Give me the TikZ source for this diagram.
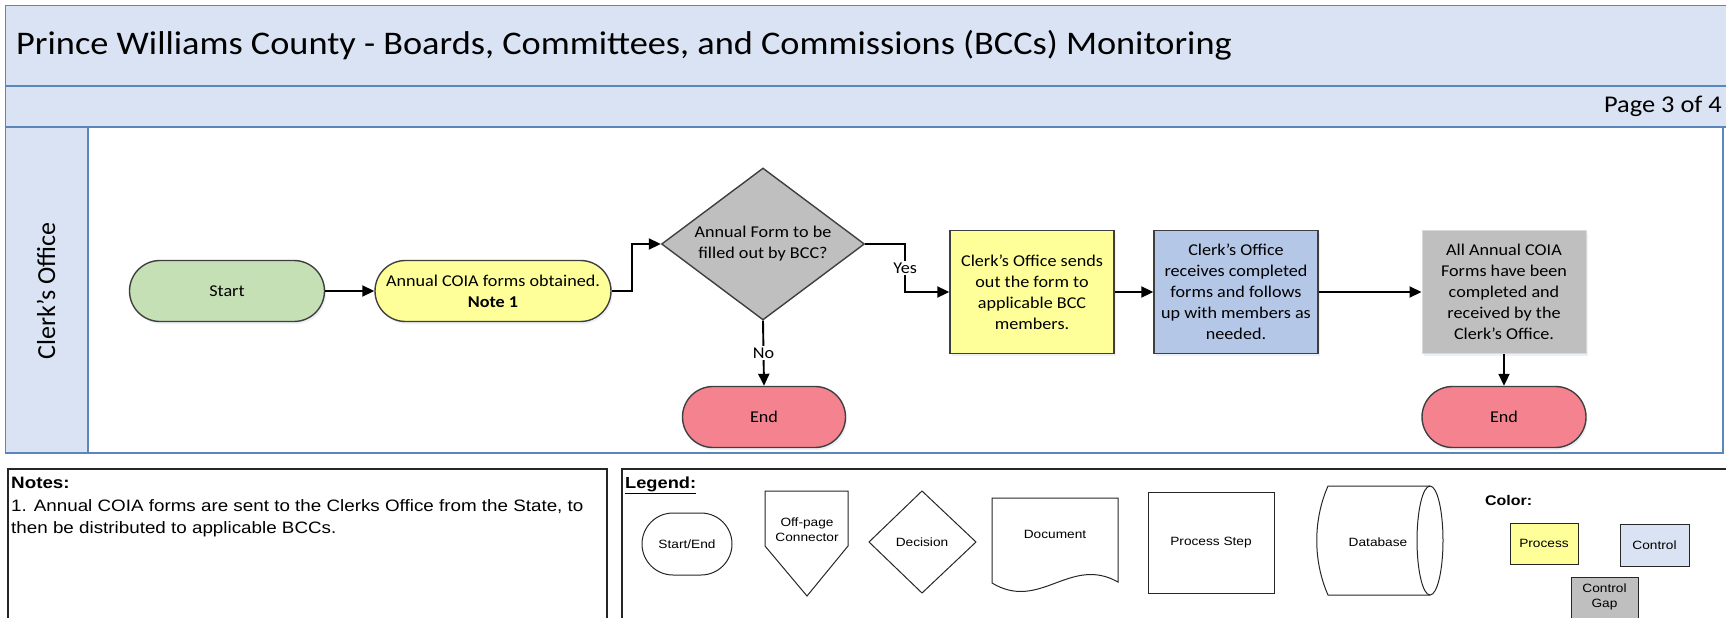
\documentclass[tikz,border=0pt]{standalone}
\usepackage{fontspec}
\setmainfont{Carlito}[FakeStretch=1.1]
\newfontfamily\lanefont{Carlito}
\newfontfamily\arialfont{Liberation Sans}[FakeStretch=1.14]
\usetikzlibrary{shapes.geometric,shapes.misc,arrows.meta,shadows}
\definecolor{hdr}{HTML}{DAE3F3}
\definecolor{hdrline}{HTML}{5A86BC}
\definecolor{startgreen}{HTML}{C5E0B4}
\definecolor{procyellow}{HTML}{FFFF99}
\definecolor{gapgray}{HTML}{BFBFBF}
\definecolor{endpink}{HTML}{F4838F}
\definecolor{ctrlblue}{HTML}{B4C7E7}
\definecolor{edge}{HTML}{3F3F3F}
\begin{document}
\begin{tikzpicture}[x=1pt,y=-1pt,
  flowtext/.style={font=\fontsize{16.5}{21}\selectfont},
  nshadow/.style={drop shadow={shadow xshift=1.5pt,shadow yshift=-2.5pt,opacity=0.3,fill=hdrline!40}},
  term/.style={rounded rectangle,draw=edge,line width=1.4pt,minimum height=61pt,inner sep=0pt,align=center,flowtext,nshadow},
  proc/.style={rectangle,draw=edge,line width=1.4pt,minimum width=164pt,minimum height=123pt,inner sep=0pt,align=center,flowtext,nshadow},
  decision/.style={diamond,aspect=1.34,draw=edge,line width=1.4pt,minimum width=203pt,minimum height=152pt,inner sep=0pt,align=center,flowtext},
  arr/.style={-{Triangle[length=12pt,width=11pt]},line width=1.9pt,black},
  lbl/.style={fill=white,inner sep=1.5pt,flowtext},
  lgd/.style={draw=black!85,line width=1pt},
  lgdtext/.style={font=\arialfont\fontsize{12}{15}\selectfont,align=center,inner sep=0pt},
  frameline/.style={draw=hdrline,line width=1.6pt}
]
\useasboundingbox (0,0) rectangle (1726,618);
% header and lane
\fill[hdr] (5.5,5.5) rectangle (1740,127);
\fill[hdr] (5.5,127) rectangle (88,453);
\draw[frameline] (1740,5.5) -- (5.5,5.5) -- (5.5,453) -- (1723,453) -- (1723,127);
\draw[frameline] (5.5,86) -- (1740,86);
\draw[frameline] (5.5,127) -- (1740,127);
\draw[frameline] (88,127) -- (88,453);
\node[anchor=west,inner sep=0pt,font=\fontsize{33}{40}\selectfont] (title) at (16,45) {Prince Williams County - Boards, Committees, and Commissions (BCCs) Monitoring};
\node[anchor=east,inner sep=0pt,font=\fontsize{24}{28}\selectfont] (page) at (1722,106) {Page 3 of 4};
\node[rotate=90,inner sep=0pt,font=\lanefont\fontsize{26}{30}\selectfont] (lane) at (46,291) {Clerk’s Office};
% flow nodes
\node[term,fill=startgreen,minimum width=195pt] (start) at (227,291) {Start};
\node[term,fill=procyellow,minimum width=236pt] (annual) at (493,291) {Annual COIA forms obtained.\\\textbf{Note 1}};
\node[decision,fill=gapgray] (dec) at (763,244) {Annual Form to be\\filled out by BCC?};
\node[term,fill=endpink,minimum width=163pt] (end1) at (764,417) {End};
\node[proc,fill=procyellow] (sends) at (1032,292) {Clerk’s Office sends\\out the form to\\applicable BCC\\members.};
\node[proc,fill=ctrlblue] (recv) at (1236,292) {Clerk’s Office\\receives completed\\forms and follows\\up with members as\\needed.};
\node[proc,fill=gapgray,draw=black!15,line width=1pt] (done) at (1504,292) {All Annual COIA\\Forms have been\\completed and\\received by the\\Clerk’s Office.};
\node[term,fill=endpink,minimum width=164pt] (end2) at (1504,417) {End};
% connectors
\draw[arr] (start) -- (annual);
\draw[arr] (annual.east) -- ++(20,0) |- (dec.west);
\draw[arr] (dec.east) -- ++(40,0) |- node[lbl,pos=0.25] {Yes} (sends.west);
\draw[arr] (dec.south) -- node[lbl] {No} (end1.north);
\draw[arr] (sends) -- (recv);
\draw[arr] (recv) -- (done);
\draw[arr] (done) -- (end2);
% notes
\draw[line width=1.3pt,black!85] (8,469) rectangle (607,640);
\node[anchor=base west,inner sep=0pt,font=\arialfont\bfseries\fontsize{16.5}{20}\selectfont] (notes) at (11,488) {Notes:};
\node[anchor=base west,inner sep=0pt,font=\arialfont\fontsize{16.5}{20}\selectfont] (note1) at (11,511) {1. Annual COIA forms are sent to the Clerks Office from the State, to};
\node[anchor=base west,inner sep=0pt,font=\arialfont\fontsize{16.5}{20}\selectfont] (note1b) at (11,533) {then be distributed to applicable BCCs.};
% legend
\draw[line width=1.3pt,black!85] (622,469) rectangle (1740,640);
\node[anchor=base west,inner sep=0pt,font=\arialfont\bfseries\fontsize{16}{19}\selectfont] (legend) at (625,488) {\underline{Legend:}};
\node[lgd,rounded rectangle,minimum width=90pt,minimum height=62pt,lgdtext] (lse) at (687,544) {Start/End};
\draw[lgd] (765,491) -- (848,491) -- (848,546) -- (807,596) -- (765,546) -- cycle;
\node[lgdtext] (lop) at (807,530) {Off-page\\Connector};
\draw[lgd] (869,542) -- (922,491) -- (976,542) -- (922,593) -- cycle;
\node[lgdtext] (ldec) at (922,542) {Decision};
\draw[lgd] (992,583) -- (992,498) -- (1118,498) -- (1118,582) .. controls (1070,555) and (1040,612) .. (992,583) -- cycle;
\node[lgdtext] (ldoc) at (1055,534) {Document};
\node[lgd,rectangle,minimum width=126pt,minimum height=101pt,lgdtext] (lps) at (1211,542.5) {Process Step};
\draw[lgd] (1430,486) -- (1328,486) .. controls (1313,520) and (1313,561) .. (1328,595) -- (1430,595);
\draw[lgd] (1430,540.5) ellipse [x radius=13,y radius=54.5];
\node[lgdtext] (ldb) at (1378,542) {Database};
\node[anchor=west,inner sep=0pt,font=\arialfont\bfseries\fontsize{14}{17}\selectfont] (color) at (1485,500) {Color:};
\node[lgd,fill=procyellow,minimum width=68pt,minimum height=41pt,lgdtext] (lproc) at (1544,543.5) {Process};
\node[lgd,fill=hdr,minimum width=69pt,minimum height=42pt,lgdtext] (lctrl) at (1654.5,545) {Control};
\draw[lgd,fill=gapgray] (1571,577) rectangle (1638,640);
\node[lgdtext] (lgap) at (1604.5,597) {Control\\Gap};
\end{tikzpicture}
\end{document}
